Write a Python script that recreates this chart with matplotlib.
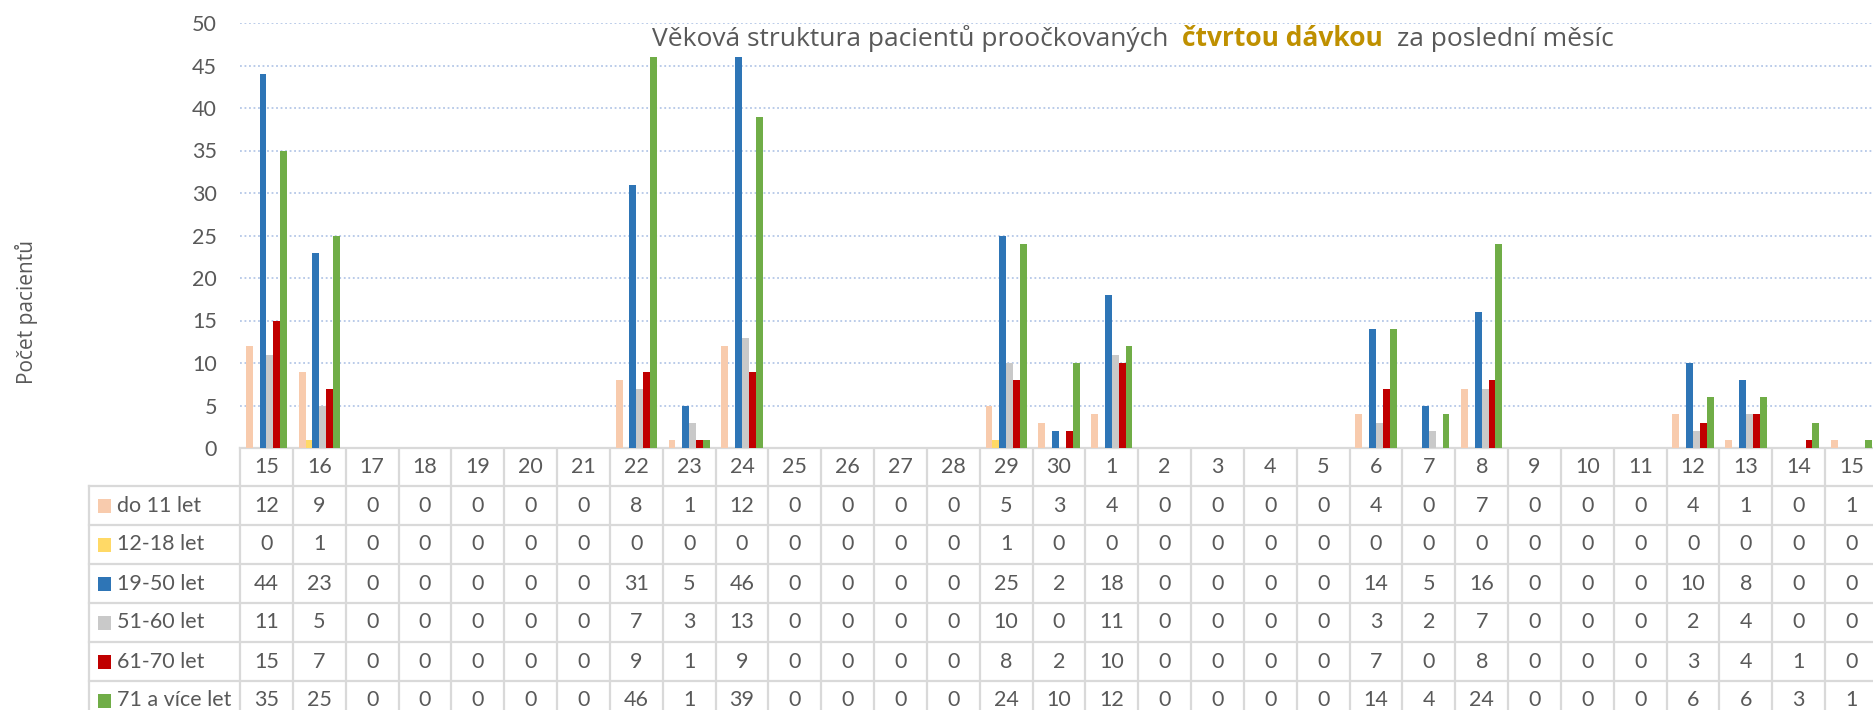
import matplotlib
matplotlib.use('Agg')
import matplotlib.pyplot as plt
import numpy as np
from matplotlib.patches import Rectangle
from matplotlib.lines import Line2D
from matplotlib.offsetbox import TextArea, HPacker, AnchoredOffsetbox

days = ['15', '16', '17', '18', '19', '20', '21', '22', '23', '24', '25', '26', '27', '28', '29', '30',
        '1', '2', '3', '4', '5', '6', '7', '8', '9', '10', '11', '12', '13', '14', '15']
series_names = ['do 11 let', '12-18 let', '19-50 let', '51-60 let', '61-70 let', '71 a více let']
do_11 = [12, 9, 0, 0, 0, 0, 0, 8, 1, 12, 0, 0, 0, 0, 5, 3, 4, 0, 0, 0, 0, 4, 0, 7, 0, 0, 0, 4, 1, 0, 1]
age_12_18 = [0, 1, 0, 0, 0, 0, 0, 0, 0, 0, 0, 0, 0, 0, 1, 0, 0, 0, 0, 0, 0, 0, 0, 0, 0, 0, 0, 0, 0, 0, 0]
age_19_50 = [44, 23, 0, 0, 0, 0, 0, 31, 5, 46, 0, 0, 0, 0, 25, 2, 18, 0, 0, 0, 0, 14, 5, 16, 0, 0, 0, 10, 8, 0, 0]
age_51_60 = [11, 5, 0, 0, 0, 0, 0, 7, 3, 13, 0, 0, 0, 0, 10, 0, 11, 0, 0, 0, 0, 3, 2, 7, 0, 0, 0, 2, 4, 0, 0]
age_61_70 = [15, 7, 0, 0, 0, 0, 0, 9, 1, 9, 0, 0, 0, 0, 8, 2, 10, 0, 0, 0, 0, 7, 0, 8, 0, 0, 0, 3, 4, 1, 0]
age_71 = [35, 25, 0, 0, 0, 0, 0, 46, 1, 39, 0, 0, 0, 0, 24, 10, 12, 0, 0, 0, 0, 14, 4, 24, 0, 0, 0, 6, 6, 3, 1]
series = [do_11, age_12_18, age_19_50, age_51_60, age_61_70, age_71]
colors = ['#F8CBAD', '#FFD966', '#2E75B6', '#C9C9C9', '#C00000', '#70AD47']

FONT = ['Lato', 'DejaVu Sans']
TITLE_FONT = ['Open Sans', 'DejaVu Sans']
TXT = '#595959'
GRID = '#D9D9D9'
plt.rcParams['font.family'] = FONT

W, H = 1874, 710
fig = plt.figure(figsize=(W / 100, H / 100), dpi=100)
L, R, T, B = 240, 1878, 23, 448
ax = fig.add_axes([L / W, 1 - B / H, (R - L) / W, (B - T) / H])
n = len(days)
x = np.arange(n)
bw = 0.13
for k, (vals, c) in enumerate(zip(series, colors)):
    ax.bar(x + (k - 2.5) * bw, vals, width=bw, color=c, linewidth=0, zorder=3)
ax.set_xlim(-0.5, n - 0.5)
ax.set_ylim(0, 50)
ax.set_yticks(range(0, 51, 5))
ax.yaxis.grid(True, color='#B4C7E7', linestyle=(0, (1, 1.5)), linewidth=1.3)
ax.set_axisbelow(True)
ax.set_xticks([])
for s in ['top', 'right', 'left']:
    ax.spines[s].set_visible(False)
ax.spines['bottom'].set_color(GRID)
ax.spines['bottom'].set_linewidth(1.6)
ax.tick_params(axis='y', length=0, pad=16.5, labelsize=15.5, labelcolor=TXT)

fig.text(27 / W, 1 - 312 / H, 'Počet pacientů', rotation=90, ha='center', va='center',
         fontsize=15, color=TXT, family=TITLE_FONT)

# title
tp = dict(color=TXT, size=19, family=TITLE_FONT)
parts = [TextArea('Věková struktura pacientů proočkovaných', textprops=tp),
         TextArea('čtvrtou dávkou', textprops=dict(tp, color='#BF9000', weight='bold')),
         TextArea('za poslední měsíc', textprops=tp)]
box = HPacker(children=parts, sep=10, pad=0, align='baseline')
anc = AnchoredOffsetbox(loc='center', child=box, pad=0, borderpad=0, frameon=False,
                        bbox_to_anchor=(1133 / W, 1 - 38 / H), bbox_transform=fig.transFigure)
fig.add_artist(anc)

# data table
tax = fig.add_axes([0, 0, 1, 1], zorder=-1)
tax.set_xlim(0, W)
tax.set_ylim(H, 0)
tax.axis('off')
colw = (R - L) / n
hdr_top, hdr_bot = B, 486
rowh = 39
lab_left = 89
lw = 1.6
for i in range(n + 1):
    xb = L + i * colw
    tax.add_line(Line2D([xb, xb], [hdr_top, H + 5], color=GRID, lw=lw))
tax.add_line(Line2D([lab_left, lab_left], [hdr_bot, H + 5], color=GRID, lw=lw))
for j in range(len(series) + 1):
    yb = hdr_bot + j * rowh
    tax.add_line(Line2D([lab_left, R], [yb, yb], color=GRID, lw=lw))
for i, d in enumerate(days):
    tax.text(L + (i + 0.5) * colw, (hdr_top + hdr_bot) / 2, d, ha='center', va='center',
             fontsize=15.5, color=TXT)
for j, (name, vals, c) in enumerate(zip(series_names, series, colors)):
    yc = hdr_bot + (j + 0.5) * rowh
    tax.add_patch(Rectangle((98, yc - 7), 13, 14, color=c, lw=0))
    tax.text(117, yc, name, ha='left', va='center', fontsize=15.5, color=TXT)
    for i, v in enumerate(vals):
        tax.text(L + (i + 0.5) * colw, yc, str(v), ha='center', va='center', fontsize=15.5, color=TXT)

fig.savefig('out.png', dpi=100)
